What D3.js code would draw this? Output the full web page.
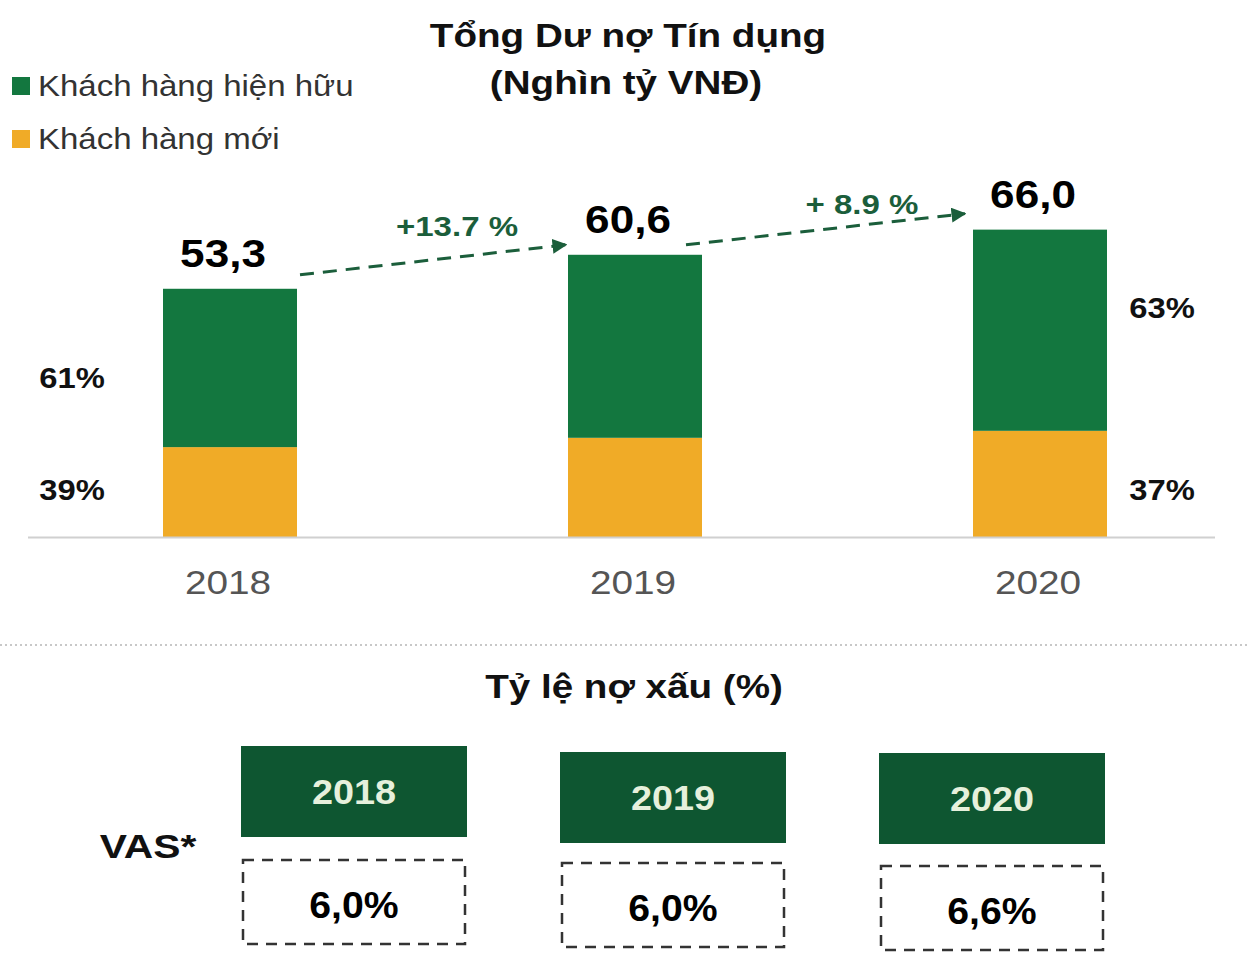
<!DOCTYPE html>
<html><head><meta charset="utf-8">
<script src="https://cdn.jsdelivr.net/npm/d3@7"></script>
<style>body{margin:0;background:#fff}svg{display:block;font-family:"Liberation Sans",Arial,sans-serif}</style>
</head><body><svg id="c" width="1248" height="971"></svg>
<script>
const years = ["2018","2019","2020"];
const totals = [53.3, 60.6, 66.0];
const totalLabels = ["53,3","60,6","66,0"];
const newCustomers = [19.3, 21.3, 22.8];
const existingShareLabels = ["61%", null, "63%"];
const newShareLabels = ["39%", null, "37%"];
const growthLabels = ["+13.7 %", "+ 8.9 %"];
const nplYears = ["2018","2019","2020"];
const nplLabels = ["6,0%","6,0%","6,6%"];

const GREEN = "#13773f", ORANGE = "#f0ab27", DARK = "#0e5631", ARROW = "#1b5e3b";
const svg = d3.select("#c");

// text helper with horizontal stretch
function txt(parent, x, y, s, opts) {
  const o = Object.assign({size: 30, bold: false, fill: "#111", anchor: "middle", sx: 1}, opts || {});
  return parent.append("text")
    .attr("transform", `translate(${x},${y}) scale(${o.sx},1)`)
    .attr("text-anchor", o.anchor)
    .attr("font-size", o.size)
    .attr("font-weight", o.bold ? "bold" : "normal")
    .attr("fill", o.fill)
    .text(s);
}

const x = d3.scalePoint().domain(years).range([27.5, 1242.5]).padding(0.5);
const y = d3.scaleLinear().domain([0, 70]).range([537, 211]);
const bw = 134;

// Title
txt(svg, 628, 47, "Tổng Dư nợ Tín dụng", {size: 33, bold: true, sx: 1.17});
txt(svg, 626, 94, "(Nghìn tỷ VNĐ)", {size: 33, bold: true, sx: 1.17});

// Legend
const legend = [["Khách hàng hiện hữu", GREEN],["Khách hàng mới", ORANGE]];
legend.forEach((l,i)=>{
  svg.append("rect").attr("x",12).attr("y",77+i*53).attr("width",18).attr("height",18).attr("fill",l[1]);
  txt(svg, 38, 96+i*53, l[0], {size: 30, fill: "#333", anchor: "start", sx: 1.1});
});

// Bars
const data = years.map((yr,i)=>({yr, total: totals[i], nw: newCustomers[i]}));
const g = svg.append("g");
g.selectAll(".new").data(data).join("rect")
  .attr("x", d=>x(d.yr)-bw/2).attr("width", bw)
  .attr("y", d=>y(d.nw)).attr("height", d=>y(0)-y(d.nw)).attr("fill", ORANGE);
g.selectAll(".ex").data(data).join("rect")
  .attr("x", d=>x(d.yr)-bw/2).attr("width", bw)
  .attr("y", d=>y(d.total)).attr("height", d=>y(d.nw)-y(d.total)).attr("fill", GREEN);

// Baseline
svg.append("line").attr("x1",28).attr("x2",1215).attr("y1",y(0)+0.5).attr("y2",y(0)+0.5)
  .attr("stroke","#d0d0d0").attr("stroke-width",2);

// Year axis labels
years.forEach(yr => txt(svg, x(yr)-2, 594, yr, {size: 34, fill: "#555", sx: 1.14}));

// Total labels
data.forEach((d,i) => txt(svg, x(d.yr)-7, y(d.total)-22, totalLabels[i], {size: 38, bold: true, fill: "#000", sx: 1.16}));

// Share labels
data.forEach((d,i)=>{
  const left = i===0;
  const lx = left ? 72 : 1162;
  if (existingShareLabels[i]) txt(svg, lx, left ? 388 : 318, existingShareLabels[i], {size: 29, bold: true, sx: 1.13});
  if (newShareLabels[i]) txt(svg, lx, 500, newShareLabels[i], {size: 29, bold: true, sx: 1.13});
});

// Arrows
const defs = svg.append("defs");
defs.append("marker").attr("id","ah").attr("viewBox","0 0 10 10").attr("refX",9).attr("refY",5)
  .attr("markerWidth",5).attr("markerHeight",5).attr("orient","auto")
  .append("path").attr("d","M0,0 L10,5 L0,10 Z").attr("fill",ARROW);
const arrows = [
  {x1: x("2018")+bw/2+3, y1: y(totals[0])-14, x2: x("2019")-bw/2-2, y2: y(totals[1])-10, lx: 457, ly: 236},
  {x1: x("2019")+bw/2-16, y1: y(totals[1])-10, x2: x("2020")-bw/2-8, y2: y(totals[2])-16, lx: 862, ly: 214}
];
arrows.forEach((a,i)=>{
  svg.append("line").attr("x1",a.x1).attr("y1",a.y1).attr("x2",a.x2).attr("y2",a.y2)
    .attr("stroke",ARROW).attr("stroke-width",3).attr("stroke-dasharray","14,9")
    .attr("marker-end","url(#ah)");
  txt(svg, a.lx, a.ly, growthLabels[i], {size: 28, bold: true, fill: ARROW, sx: 1.18});
});

// Separator
svg.append("line").attr("x1",0).attr("x2",1248).attr("y1",645).attr("y2",645)
  .attr("stroke","#c8c8c8").attr("stroke-width",2).attr("stroke-dasharray","2,3");

// NPL section
txt(svg, 634, 698, "Tỷ lệ nợ xấu (%)", {size: 33, bold: true, sx: 1.17});
txt(svg, 148, 858, "VAS*", {size: 34, bold: true, sx: 1.2});

const xb = d3.scalePoint().domain(nplYears).range([194.5, 1151.5]).padding(0.5);
const boxW = 226;
const topY = [746, 752, 753];
const botY = [860, 863, 866];
nplYears.forEach((yr,i)=>{
  const cx = xb(yr);
  svg.append("rect").attr("x",cx-boxW/2).attr("y",topY[i]).attr("width",boxW).attr("height",91)
    .attr("fill",DARK);
  txt(svg, cx, topY[i]+58, yr, {size: 35, bold: true, fill: "#e6f0dc", sx: 1.08});
  svg.append("rect").attr("x",cx-boxW/2+2).attr("y",botY[i]).attr("width",boxW-4).attr("height",84)
    .attr("fill","none").attr("stroke","#333").attr("stroke-width",2.5).attr("stroke-dasharray","11,8");
  txt(svg, cx, botY[i]+58, nplLabels[i], {size: 37, bold: true, fill: "#000", sx: 1.06});
});
</script></body></html>
